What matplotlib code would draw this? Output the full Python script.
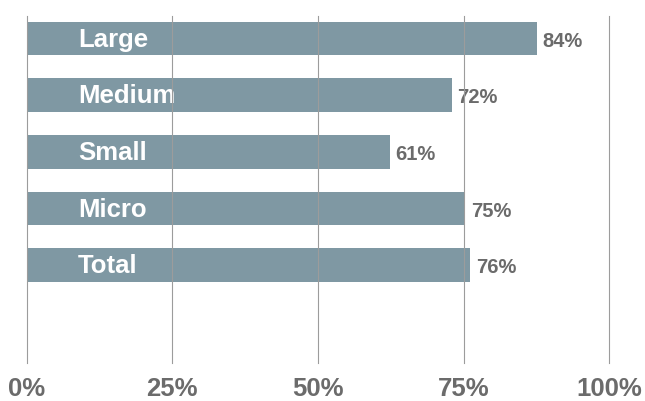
import matplotlib
matplotlib.use('Agg')
import matplotlib.pyplot as plt

# Data
categories = ['Large', 'Medium', 'Small', 'Micro', 'Total']
bar_values = [87.6, 73.0, 62.3, 75.3, 76.1]
value_labels = ['84%', '72%', '61%', '75%', '76%']
x_ticks = [0, 25, 50, 75, 100]
x_tick_labels = ['0%', '25%', '50%', '75%', '100%']

bar_color = '#7f98a3'
text_gray = '#6b6b6b'
grid_gray = '#9c9c9c'

plt.rcParams['font.family'] = ['Liberation Sans', 'DejaVu Sans']
plt.rcParams['font.weight'] = 'bold'

fig = plt.figure(figsize=(6.45, 4.01), dpi=100)
ax = fig.add_axes([0.0414, 0.0948, 0.9033, 0.8653])

pos = list(range(len(categories)))
ax.barh(pos, bar_values, height=0.594, color=bar_color, zorder=1)

# category names inside the bars, value labels just past the bar ends
base = 0.145  # baseline sits a bit below the bar centre
for p, name, v, lab in zip(pos, categories, bar_values, value_labels):
    ax.text(8.8, p + base, name, color='white', fontsize=18.5, fontweight='bold',
            ha='left', va='baseline', zorder=2)
    ax.annotate(lab, xy=(v, p + base), xytext=(4, 0), textcoords='offset points',
                color=text_gray, fontsize=14.5, fontweight='bold',
                ha='left', va='baseline', zorder=2)

ax.set_xlim(0, 100)
ax.set_ylim(5.73, -0.40)
ax.set_xticks(x_ticks)
ax.set_xticklabels(x_tick_labels)
ax.set_yticks([])
ax.tick_params(axis='x', length=0, pad=10, labelsize=18.5, labelcolor=text_gray)
for lab in ax.get_xticklabels():
    lab.set_fontweight('bold')

for s in ax.spines.values():
    s.set_visible(False)
ax.set_axisbelow(False)
ax.grid(axis='x', color=grid_gray, linewidth=0.8, zorder=5)
for gl in ax.get_xgridlines():
    gl.set_clip_on(False)
ax.grid(axis='y', visible=False)

fig.savefig('out.png', dpi=100)
